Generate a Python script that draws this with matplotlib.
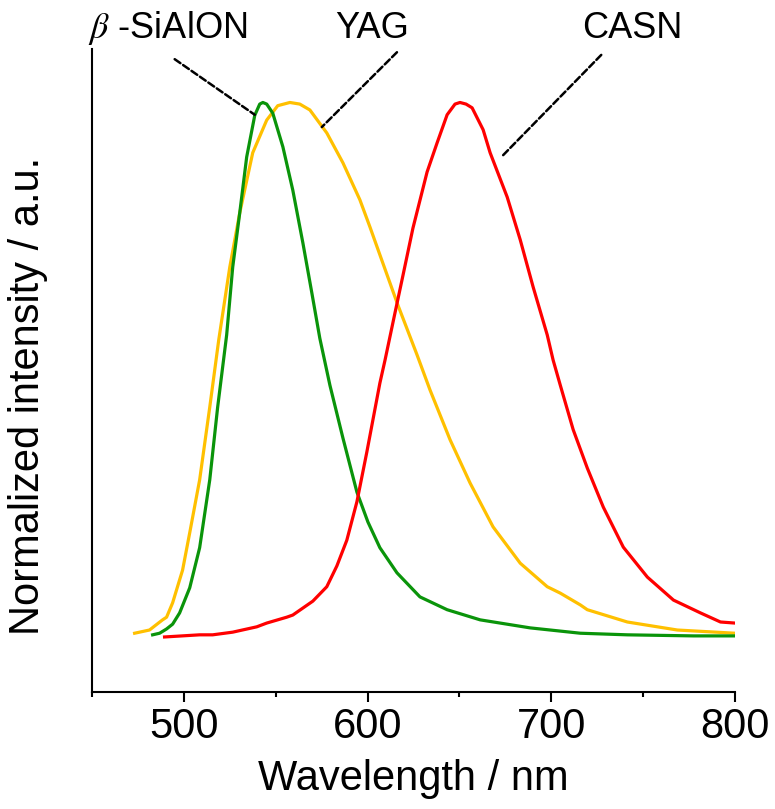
import numpy as np
import matplotlib
matplotlib.use("Agg")
import matplotlib.pyplot as plt
from matplotlib.ticker import MultipleLocator

plt.rcParams['font.family'] = ['Liberation Sans', 'DejaVu Sans']
plt.rcParams['mathtext.fontset'] = 'stix'

# beta-SiAlON (green)
sialon_wl = [483.0, 486.8, 490.6, 493.9, 497.7, 503.2, 508.6, 514.1, 518.4, 523.3,
             526.6, 530.4, 534.2, 538.6, 541.3, 543.0, 545.1, 548.4, 553.9, 559.3,
             564.8, 569.7, 574.0, 579.5, 586.6, 594.2, 600.2, 606.7, 616.0, 628.5,
             643.3, 661.3, 688.5, 715.8, 741.4, 777.4, 800.0]
sialon_int = [0.004, 0.007, 0.015, 0.024, 0.045, 0.092, 0.167, 0.294, 0.430, 0.565,
              0.692, 0.793, 0.898, 0.976, 0.997, 1.000, 0.997, 0.980, 0.917, 0.836,
              0.737, 0.643, 0.559, 0.471, 0.372, 0.271, 0.215, 0.167, 0.120, 0.075,
              0.051, 0.032, 0.017, 0.007, 0.004, 0.002, 0.002]

# YAG (yellow)
yag_wl = [473.2, 481.3, 488.4, 490.6, 493.9, 497.7, 499.3, 503.2, 508.6, 514.1,
          519.0, 525.0, 530.4, 537.5, 545.1, 551.1, 557.7, 563.1, 568.6, 577.8,
          586.6, 595.8, 601.3, 606.7, 616.5, 626.9, 634.0, 644.9, 655.8,
          668.3, 683.1, 697.8, 704.9, 715.8, 719.6, 741.4, 768.6, 800.0]
yag_int = [0.007, 0.013, 0.032, 0.037, 0.064, 0.107, 0.125, 0.195, 0.294, 0.430,
           0.556, 0.692, 0.793, 0.906, 0.967, 0.994, 1.000, 0.997, 0.986, 0.943,
           0.887, 0.818, 0.767, 0.715, 0.621, 0.528, 0.462, 0.369, 0.288,
           0.206, 0.138, 0.094, 0.082, 0.060, 0.051, 0.028, 0.013, 0.007]

# CASN (red)
casn_wl = [489.5, 508.6, 515.7, 526.6, 539.7, 545.1, 556.0, 559.3, 570.2, 577.8,
           583.3, 588.7, 594.2, 599.6, 606.7, 609.5, 614.9, 619.3, 624.7,
           632.4, 637.8, 643.3, 647.6, 650.3, 653.6, 656.9, 662.9, 666.7, 676.0, 683.1,
           690.1, 697.8, 701.0, 704.9, 711.9, 719.6, 728.3, 739.2, 752.3, 766.5,
           781.2, 792.1, 800.0]
casn_int = [0.000, 0.004, 0.004, 0.009, 0.019, 0.026, 0.037, 0.041, 0.067, 0.094,
            0.133, 0.181, 0.253, 0.346, 0.475, 0.518, 0.606, 0.677, 0.765,
            0.870, 0.924, 0.977, 0.997, 1.000, 0.997, 0.990, 0.949, 0.906, 0.823, 0.743,
            0.655, 0.565, 0.518, 0.471, 0.388, 0.316, 0.243, 0.168, 0.112, 0.069,
            0.045, 0.028, 0.026]

fig = plt.figure(figsize=(7.75, 8.09), dpi=100)
ax = fig.add_axes([0.1187, 0.1446, 0.8297, 0.7948])

ax.plot(yag_wl, yag_int, color='#FFC000', lw=2.3)
ax.plot(sialon_wl, sialon_int, color='#0A940A', lw=2.3)
ax.plot(casn_wl, casn_int, color='#FF0000', lw=2.3)

ax.set_xlim(450, 800)
ax.set_ylim(-0.103, 1.10)

for s in ['top', 'right']:
    ax.spines[s].set_visible(False)
for s in ['left', 'bottom']:
    ax.spines[s].set_linewidth(1.5)

ax.xaxis.set_major_locator(MultipleLocator(100))
ax.xaxis.set_minor_locator(MultipleLocator(50))
ax.tick_params(axis='x', which='major', direction='out', length=7.2, width=1.5,
               labelsize=30, pad=3.5)
ax.tick_params(axis='x', which='minor', direction='out', length=3.6, width=1.5)
ax.set_yticks([])

ax.set_xlabel('Wavelength / nm', fontsize=30, labelpad=9)
ax.set_ylabel('Normalized intensity / a.u.', fontsize=30)
ax.yaxis.set_label_coords(-0.068, 0.46)

# labels with dashed leader lines
dash = dict(arrowstyle='-', linestyle=(0, (2.8, 1.3)), lw=1.8, color='black',
            shrinkA=0, shrinkB=0)
ax.annotate('', xy=(538.6, 0.977), xytext=(495.0, 1.081), arrowprops=dash,
            annotation_clip=False)
ax.annotate('', xy=(575.1, 0.954), xytext=(616.0, 1.094), arrowprops=dash,
            annotation_clip=False)
ax.annotate('', xy=(673.1, 0.899), xytext=(727.2, 1.089), arrowprops=dash,
            annotation_clip=False)

ax.text(491.2, 1.121, '$\\beta$ -SiAlON', fontsize=26, ha='center', va='baseline',
        clip_on=False)
ax.text(602.4, 1.121, 'YAG', fontsize=26, ha='center', va='baseline', clip_on=False)
ax.text(744.1, 1.121, 'CASN', fontsize=26, ha='center', va='baseline', clip_on=False)

fig.savefig('out.png', dpi=100)
